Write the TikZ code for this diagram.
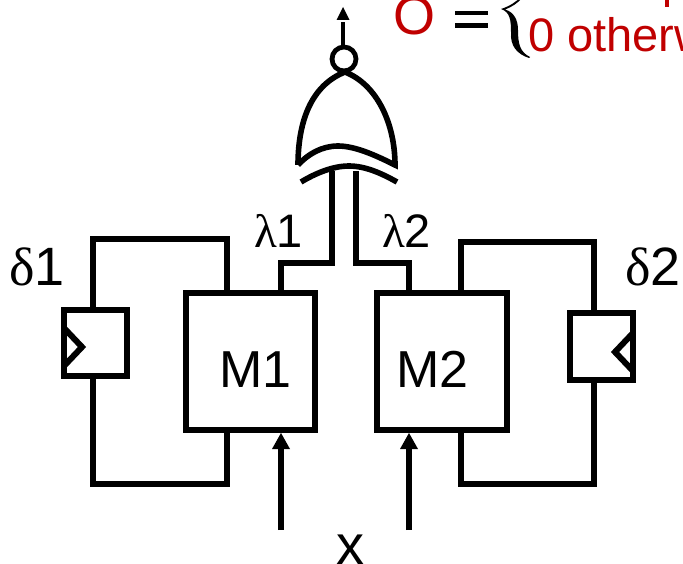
\documentclass[tikz,border=0pt]{standalone}
\usepackage{fontspec}
\setmainfont{Liberation Sans}
\newfontfamily\serifgr{Liberation Serif}
\definecolor{eqred}{RGB}{192,0,0}
\tikzset{
  wire/.style={line width=6pt,line cap=butt,line join=miter,draw=black},
  gate/.style={line width=5.6pt,draw=black,fill=none},
  boxm/.style={rectangle,draw=black,line width=6pt,fill=white,minimum width=#1,inner sep=0pt},
  lab/.style={inner sep=0pt,text=black,anchor=base west,font=\fontsize{52}{54}\selectfont},
  greek/.style={inner sep=0pt,text=black,anchor=base west,font=\fontsize{#1}{#1}\selectfont},
  redtxt/.style={inner sep=0pt,text=eqred,anchor=base west}
}
\begin{document}
\begin{tikzpicture}[x=1pt,y=-1pt]
\useasboundingbox (0,0) rectangle (683,564);
\clip (0,0) rectangle (683,564);
% coordinates for free ends
\coordinate (in1) at (281,530);
\coordinate (in2) at (409,530);
\coordinate (gl) at (332,171);
\coordinate (gr) at (356,171);
\coordinate (outtop) at (343,8);
% boxes
\node[boxm=129pt,minimum height=137pt] (M1) at (250.5,361.5) {};
\node[boxm=130pt,minimum height=137pt] (M2) at (442,361.5) {};
\node[boxm=63pt,minimum height=66pt] (F1) at (95.5,343) {};
\node[boxm=63pt,minimum height=67pt] (F2) at (601.5,346.5) {};
% feedback loops
\draw[wire] (93,0 |- F1.north) -- (93,239) -- (227,239) -- (227,0 |- M1.north);
\draw[wire] (93,0 |- F1.south) -- (93,484) -- (227,484) -- (227,0 |- M1.south);
\draw[wire] (461,0 |- M2.north) -- (461,242) -- (594,242) -- (594,0 |- F2.north);
\draw[wire] (594,0 |- F2.south) -- (594,484) -- (461,484) -- (461,0 |- M2.south);
% clock triangles
\draw[wire] (64,328) -- (82,347) -- (64,366);
\draw[wire] (633,333) -- (615,352) -- (633,371);
% outputs to gate
\draw[wire] (281,0 |- M1.north) -- (281,263) -- (332,263) -- (gl);
\draw[wire] (409,0 |- M2.north) -- (409,263) -- (356,263) -- (gr);
% inputs
\draw[wire] (in1) -- (281,445);
\draw[wire] (in2) -- (409,445);
\fill (281,433) -- (290,449) -- (272,449) -- cycle;
\fill (409,433) -- (418,449) -- (400,449) -- cycle;
% gate
\draw[gate] (298,165) .. controls (298,120) and (312,85) .. (345,72)
  .. controls (378,85) and (395,125) .. (395,165)
  .. controls (375,155) and (355,146) .. (338,146)
  .. controls (322,146) and (308,154) .. (298,165);
\draw[gate] (301,182) .. controls (316,173) and (333,166) .. (349,166)
  .. controls (365,166) and (381,173) .. (397,182);
\node[circle,draw=black,line width=4.8pt,fill=white,minimum size=24pt,inner sep=0pt] (B) at (344,59) {};
\draw[line width=4.5pt] (343,47) -- (outtop |- 0,22);
\fill (343,7) -- (349.5,20) -- (336.5,20) -- cycle;
% labels
\node[lab] (tM1) at (219,387) {M1};
\node[lab] (tM2) at (396,387) {M2};
\node[greek=54] (td1) at (9,285) {{\serifgr δ}1};
\node[greek=54] (td2) at (625,285) {{\serifgr δ}2};
\node[greek=47] (tl1) at (254,248) {{\serifgr λ}1};
\node[greek=47] (tl2) at (382,248) {{\serifgr λ}2};
\node[greek=56] (tx) at (336,564) {x};
% equation
\node[redtxt,font=\fontsize{54}{54}\selectfont] (tO) at (393,35) {O};
\fill[black] (455,11) rectangle (488,15.5);
\fill[black] (455,23.5) rectangle (488,28);
\fill[black] (501,9) .. controls (510,6) and (516,2) .. (522,-4)
  -- (523,-3) .. controls (518,3) and (512,7) .. (505,9.5)
  .. controls (514,12) and (518,20) .. (518,30)
  .. controls (518,44) and (520,52) .. (530,57)
  -- (529,58) .. controls (517,54) and (510,46) .. (511,32)
  .. controls (511,20) and (510,12) .. (501,9) -- cycle;
\node[redtxt,font=\fontsize{47}{47}\selectfont] (t0) at (528,52) {0 otherwise};
\fill[eqred] (665,-2) rectangle (669,7);
\end{tikzpicture}
\end{document}
